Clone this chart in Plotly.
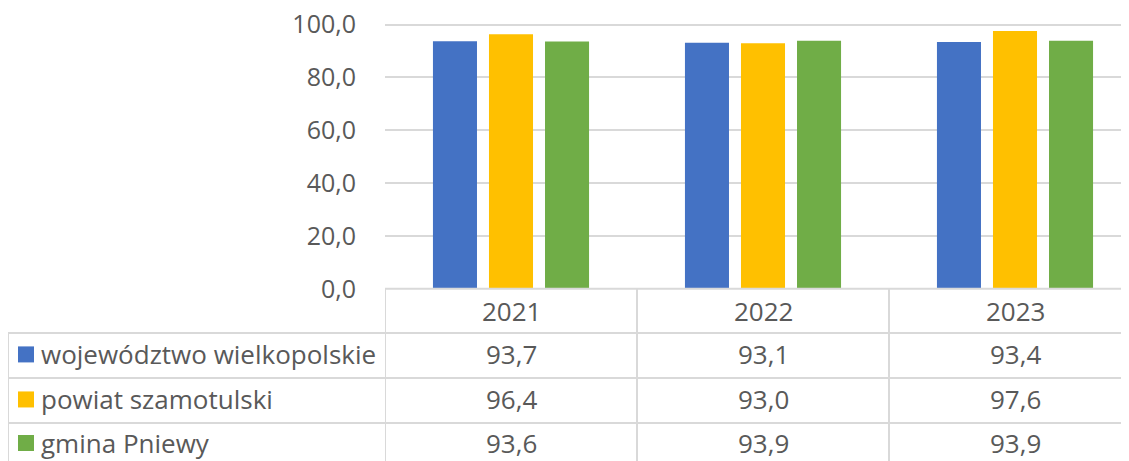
import plotly.graph_objects as go

years = ["2021", "2022", "2023"]
series_names = ["województwo wielkopolskie", "powiat szamotulski", "gmina Pniewy"]
woj = [93.7, 93.1, 93.4]
pow_ = [96.4, 93.0, 97.6]
gmina = [93.6, 93.9, 93.9]
y_ticks = [0, 20, 40, 60, 80, 100]

series_values = [woj, pow_, gmina]
colors = ["#4472C4", "#FFC000", "#70AD47"]

OFF = 8  # default page body margin
W, H = 1129 - OFF, 461 - OFF
plot_left = 385 - OFF
y100 = 25 - OFF
plot_bottom = 289 - OFF
YMAX = 101.0
px_per_unit = (plot_bottom - y100) / 100.0
plot_top = y100 - (YMAX - 100) * px_per_unit
FONT = "Open Sans"
TXT = "#595959"
GRID = "#D9D9D9"
FS = 26

fig = go.Figure()
for name, vals, col in zip(series_names, series_values, colors):
    fig.add_trace(go.Bar(x=years, y=vals, name=name, marker=dict(color=col, line=dict(width=0))))

def py(p):  # screen pixel y -> paper y
    return (H - (p - OFF)) / (H - plot_top)

def px(p):
    return (p - OFF) / W

shapes = []
annotations = []
line = dict(color=GRID, width=2)
row_edges = [289, 333, 378, 423, 468]
shapes.append(dict(type="line", xref="x", yref="paper", x0=-0.5, x1=3, y0=py(289), y1=py(289), line=line))
for ry in row_edges[1:4]:
    shapes.append(dict(type="line", xref="paper", yref="paper", x0=px(8), x1=1.02, y0=py(ry), y1=py(ry), line=line))
shapes.append(dict(type="line", xref="paper", yref="paper", x0=px(8), x1=px(8), y0=py(333), y1=py(470), line=line))
for i in range(len(years) + 1):
    shapes.append(dict(type="line", xref="x", yref="paper", x0=i - 0.5, x1=i - 0.5, y0=py(289), y1=py(470), line=line))

for i, yr in enumerate(years):
    annotations.append(dict(x=i, xref="x", y=py(311), yref="paper", text=yr, showarrow=False,
                            font=dict(family=FONT, size=FS, color=TXT), xanchor="center", yanchor="middle"))
for r, (name, vals, col) in enumerate(zip(series_names, series_values, colors)):
    top, bot = row_edges[r + 1], row_edges[r + 2]
    cy = (top + bot) / 2 - 1
    if r == 2:
        cy = 443
    shapes.append(dict(type="rect", xref="paper", yref="paper", x0=px(18), x1=px(34), y0=py(cy - 8), y1=py(cy + 8),
                       fillcolor=col, line=dict(width=0)))
    annotations.append(dict(x=px(39), xref="paper", y=py(cy), yref="paper", text=name, showarrow=False,
                            font=dict(family=FONT, size=FS, color=TXT), xanchor="left", yanchor="middle"))
    for i, v in enumerate(vals):
        annotations.append(dict(x=i, xref="x", y=py(cy), yref="paper", text=f"{v:.1f}".replace(".", ","),
                                showarrow=False, font=dict(family=FONT, size=FS, color=TXT),
                                xanchor="center", yanchor="middle"))

fig.update_layout(
    width=W, height=H,
    margin=dict(l=0, r=0, t=plot_top, b=0, autoexpand=False),
    paper_bgcolor="white", plot_bgcolor="white",
    barmode="group", bargap=0.333, bargroupgap=0.214,
    showlegend=False,
    separators=", ",
    font=dict(family=FONT, size=FS, color=TXT),
    xaxis=dict(domain=[plot_left / W, 1], range=[-0.5, -0.5 + (W - plot_left) / 252.0], automargin=False,
               showticklabels=False, showgrid=False, zeroline=False, showline=False, ticks=""),
    yaxis=dict(domain=[(H - plot_bottom) / (H - plot_top), 1], range=[0, YMAX], tickvals=y_ticks, automargin=False,
               tickformat=".1f", showgrid=True, gridcolor=GRID, gridwidth=2, zeroline=False,
               showline=False, ticks="", ticklabelstandoff=28, ticklabeloverflow="allow",
               tickfont=dict(family=FONT, size=25, color=TXT)),
    shapes=shapes, annotations=annotations,
)

fig.write_html("out.html")
